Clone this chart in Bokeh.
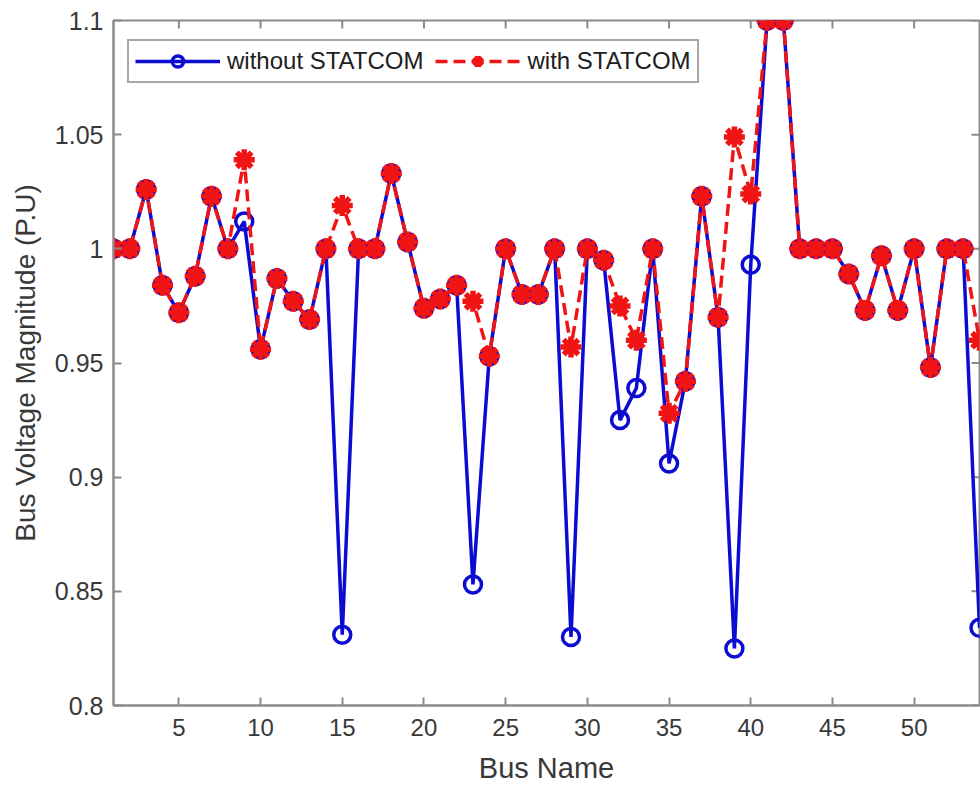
import math
from bokeh.plotting import figure
from bokeh.models import FixedTicker, Range1d, Legend, LegendItem, ColumnDataSource
from bokeh.embed import file_html
from bokeh.resources import INLINE

# ---- data ----
bus = list(range(1, 55))
without_statcom = [1.000, 1.000, 1.026, 0.984, 0.972, 0.988, 1.023, 1.000, 1.012, 0.956,
                   0.987, 0.977, 0.969, 1.000, 0.831, 1.000, 1.000, 1.033, 1.003, 0.974,
                   0.978, 0.984, 0.853, 0.953, 1.000, 0.980, 0.980, 1.000, 0.830, 1.000,
                   0.995, 0.925, 0.939, 1.000, 0.906, 0.942, 1.023, 0.970, 0.825, 0.993,
                   1.100, 1.100, 1.000, 1.000, 1.000, 0.989, 0.973, 0.997, 0.973, 1.000,
                   0.948, 1.000, 1.000, 0.834]
with_statcom = [1.000, 1.000, 1.026, 0.984, 0.972, 0.988, 1.023, 1.000, 1.039, 0.956,
                0.987, 0.977, 0.969, 1.000, 1.019, 1.000, 1.000, 1.033, 1.003, 0.974,
                0.978, 0.984, 0.977, 0.953, 1.000, 0.980, 0.980, 1.000, 0.957, 1.000,
                0.995, 0.975, 0.960, 1.000, 0.928, 0.942, 1.023, 0.970, 1.049, 1.024,
                1.100, 1.100, 1.000, 1.000, 1.000, 0.989, 0.973, 0.997, 0.973, 1.000,
                0.948, 1.000, 1.000, 0.960]
x_ticks = [5, 10, 15, 20, 25, 30, 35, 40, 45, 50]
y_ticks = [0.8, 0.85, 0.9, 0.95, 1.0, 1.05, 1.1]
y_tick_labels = ["0.8", "0.85", "0.9", "0.95", "1", "1.05", "1.1"]
series_labels = ["without STATCOM", "with STATCOM"]
x_label = "Bus Name"
y_label = "Bus Voltage Magnitude (P.U)"
x_min, x_max = 1, 54
y_min, y_max = 0.8, 1.1

FONT = "Liberation Sans"
AX_COL = "#8a8a8a"
TXT_COL = "#383838"
BLUE = "#0b0bd2"
RED = "#f01414"

p = figure(width=980, height=786, output_backend="svg", toolbar_location=None,
           x_range=Range1d(x_min, x_max), y_range=Range1d(y_min, y_max),
           min_border_left=113, min_border_right=1, min_border_top=20, min_border_bottom=81)
p.background_fill_color = "white"
p.border_fill_color = "white"
p.outline_line_color = AX_COL
p.outline_line_width = 2
p.xgrid.visible = False
p.ygrid.visible = False

src = ColumnDataSource(dict(bus=bus, wo=without_statcom, w=with_statcom))

# mirrored inward ticks on the top and right edges (clipped to the frame)
p.scatter(x=x_ticks, y=[y_max] * len(x_ticks), marker="dash", angle=math.pi / 2,
          size=16, line_color=AX_COL, line_width=2)
p.scatter(x=[x_max] * len(y_ticks), y=y_ticks, marker="dash",
          size=16, line_color=AX_COL, line_width=2)

l1 = p.line("bus", "wo", source=src, line_color=BLUE, line_width=3.5)
s1 = p.scatter("bus", "wo", source=src, marker="circle", size=17, fill_color=None,
               line_color=BLUE, line_width=3.5)
l2 = p.line("bus", "w", source=src, line_color=RED, line_width=3.5, line_dash="12 6")
s2 = p.scatter("bus", "w", source=src, marker="asterisk", size=21, line_color=RED,
               line_width=5.5)

def style_axis(ax):
    ax.axis_line_color = AX_COL
    ax.axis_line_width = 2
    ax.major_tick_line_color = AX_COL
    ax.major_tick_line_width = 2
    ax.major_tick_in = 8
    ax.major_tick_out = 0
    ax.minor_tick_line_color = None
    ax.major_label_text_font = FONT
    ax.major_label_text_color = TXT_COL
    ax.axis_label_text_font = FONT
    ax.axis_label_text_color = TXT_COL
    ax.axis_label_text_font_style = "normal"

xa = p.xaxis[0]
xa.ticker = FixedTicker(ticks=x_ticks)
style_axis(xa)
xa.major_label_text_font_size = "24px"
xa.major_label_standoff = 13
xa.axis_label = x_label
xa.axis_label_text_font_size = "29px"
xa.axis_label_standoff = 13

ya = p.yaxis[0]
ya.ticker = FixedTicker(ticks=y_ticks)
ya.major_label_overrides = {t: s for t, s in zip(y_ticks, y_tick_labels)}
style_axis(ya)
ya.major_label_text_font_size = "25px"
ya.major_label_standoff = 10
ya.axis_label = y_label
ya.axis_label_text_font_size = "28px"
ya.axis_label_standoff = 11

legend = Legend(items=[LegendItem(label=series_labels[0], renderers=[l1, s1]),
                       LegendItem(label=series_labels[1], renderers=[l2, s2])],
                orientation="horizontal", location=(14, 622))
legend.label_text_font = FONT
legend.label_text_font_size = "24px"
legend.label_text_color = "#202020"
legend.glyph_width = 85
legend.glyph_height = 28
legend.label_height = 26
legend.label_standoff = 7
legend.spacing = 12
legend.padding = 6
legend.margin = 0
legend.border_line_color = "#505050"
legend.border_line_width = 2
legend.background_fill_color = "white"
legend.background_fill_alpha = 1
p.add_layout(legend, "center")

open("out.html", "w").write(file_html(p, INLINE))
